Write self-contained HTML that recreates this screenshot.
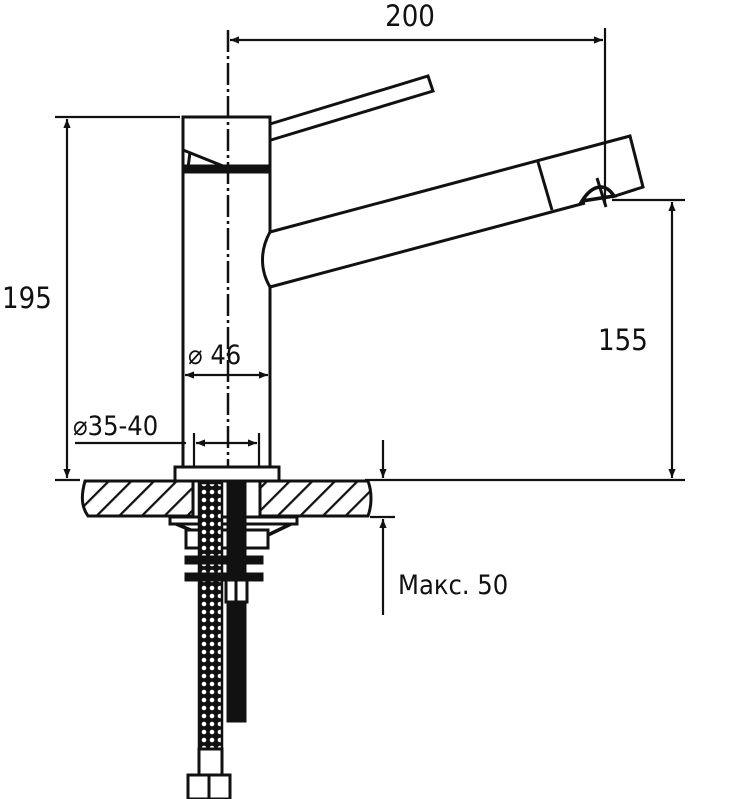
<!DOCTYPE html>
<html><head><meta charset="utf-8"><style>
html,body{margin:0;padding:0;background:#fff;width:736px;height:799px;overflow:hidden}
svg{display:block}
text{font-family:"DejaVu Sans Condensed","Liberation Sans",sans-serif;fill:#111}
</style></head><body>
<svg width="736" height="799" viewBox="0 0 736 799" xmlns="http://www.w3.org/2000/svg">
<defs>
<pattern id="hatch" width="16" height="16" patternUnits="userSpaceOnUse" patternTransform="rotate(45)">
<rect width="16" height="16" fill="#fff"/><line x1="0" y1="0" x2="0" y2="16" stroke="#111" stroke-width="4.5"/></pattern>
<pattern id="braid" width="8" height="8" patternUnits="userSpaceOnUse">
<rect width="8" height="8" fill="#111"/><circle cx="4" cy="4" r="2.3" fill="#fff"/></pattern>
<marker id="ar" viewBox="0 0 10 10" refX="10" refY="5" markerWidth="16" markerHeight="9" orient="auto-start-reverse" markerUnits="userSpaceOnUse">
<path d="M0,1 L10,5 L0,9 z" fill="#111"/></marker>
</defs>
<g stroke="#111" fill="none" stroke-width="3">
<line x1="228" y1="30" x2="228" y2="540" stroke-dasharray="22,4,3,4" stroke-width="2.5"/>
<line x1="605" y1="28" x2="605" y2="205" stroke-width="2.2"/>
<line x1="230" y1="40" x2="603" y2="40" stroke-width="2.2" marker-start="url(#ar)" marker-end="url(#ar)"/>
<line x1="55" y1="117" x2="180" y2="117" stroke-width="2.2"/>
<line x1="67" y1="119" x2="67" y2="478" stroke-width="2.2" marker-start="url(#ar)" marker-end="url(#ar)"/>
<line x1="55" y1="480" x2="80" y2="480" stroke-width="2.2"/>
<line x1="365" y1="480" x2="685" y2="480" stroke-width="2.2"/>
<line x1="612" y1="200" x2="685" y2="200" stroke-width="2.2"/>
<line x1="672" y1="202" x2="672" y2="478" stroke-width="2.2" marker-start="url(#ar)" marker-end="url(#ar)"/>
<rect x="183" y="117" width="87" height="51"/>
<path d="M183,140 L183,150 L228,168 M190,152 L188,168"/>
<rect x="183" y="166" width="87" height="6" fill="#111"/>
<path d="M270,124 L428,76 L433,91 L271,140"/>
<path d="M183,172 L183,467 M270,172 L270,232 M270,287 L270,467"/>
<path d="M270,232 C260,250 260,270 270,287"/>
<path d="M270,232 L630,136 L643,187 L612,197 M270,287 L585,203"/>
<line x1="538" y1="162" x2="552" y2="210"/>
<path d="M582,201 C592,185 605,182 614,196 Z" stroke-width="3.5"/>
<line x1="597" y1="178" x2="606" y2="207"/>
<line x1="185" y1="375" x2="268" y2="375" stroke-width="2.2" marker-start="url(#ar)" marker-end="url(#ar)"/>
<line x1="75" y1="443" x2="186" y2="443" stroke-width="2.2"/>
<line x1="194" y1="433" x2="194" y2="476" stroke-width="2.2"/>
<line x1="259" y1="433" x2="259" y2="476" stroke-width="2.2"/>
<line x1="196" y1="443" x2="257" y2="443" stroke-width="2.2" marker-start="url(#ar)" marker-end="url(#ar)"/>
<rect x="175" y="467" width="104" height="14" fill="#fff"/>
<path d="M85,481 L193,481 L193,516 L88,516 C80,505 82,492 85,481 Z" fill="url(#hatch)"/>
<path d="M260,481 L368,481 C372,492 372,505 368,516 L260,516 Z" fill="url(#hatch)"/>
<rect x="170" y="517" width="127" height="7" fill="#fff"/>
<path d="M176,524 L210,538 M291,524 L268,535" stroke-width="3.5"/>
<rect x="186" y="530" width="82" height="18" fill="#fff"/>
<rect x="199" y="483" width="23" height="290" fill="url(#braid)" stroke-width="2.5"/>
<rect x="228" y="483" width="17" height="238" fill="#111"/>
<rect x="226" y="580" width="21" height="22" fill="#fff"/>
<line x1="236" y1="580" x2="236" y2="602"/>
<rect x="199" y="749" width="23" height="26" fill="#fff"/>
<rect x="188" y="775" width="42" height="24" fill="#fff"/>
<line x1="209" y1="775" x2="209" y2="799"/>
<rect x="186" y="557" width="76" height="6" fill="#111"/>
<rect x="186" y="574" width="76" height="6" fill="#111"/>
<line x1="370" y1="517" x2="395" y2="517" stroke-width="2.2"/>
<line x1="383" y1="440" x2="383" y2="478" stroke-width="2.2" marker-end="url(#ar)"/>
<line x1="383" y1="615" x2="383" y2="519" stroke-width="2.2" marker-end="url(#ar)"/>
</g>
<text x="410" y="26" font-size="29" text-anchor="middle">200</text>
<text x="2" y="308" font-size="29">195</text>
<text x="598" y="350" font-size="29">155</text>
<text x="188" y="364" font-size="27">⌀ 46</text>
<text x="73" y="435" font-size="27">⌀35-40</text>
<text x="398" y="594" font-size="27">Макс. 50</text>
</svg>
</body></html>
